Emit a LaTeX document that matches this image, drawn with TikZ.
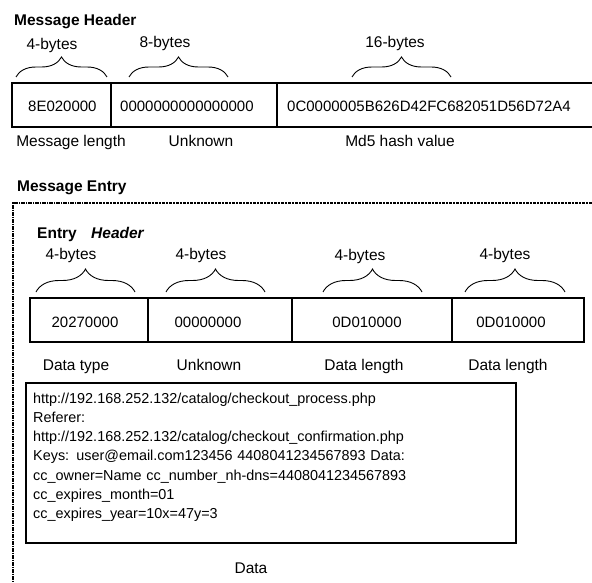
\documentclass[tikz,border=0pt]{standalone}
\usepackage{fontspec}
\setmainfont{Liberation Sans}
\usetikzlibrary{decorations.pathreplacing}

\begin{document}
\begin{tikzpicture}[x=1pt, y=-1pt,
		txt/.style={anchor=base, inner sep=0pt, font=\fontsize{15.5}{18}\selectfont},
		hex/.style={anchor=base, inner sep=0pt, font=\fontsize{15}{18}\selectfont},
		ttl/.style={anchor=base west, inner sep=0pt, font=\fontsize{15.5}{18}\selectfont\bfseries},
		cell/.style={line width=1.4pt},
		bytebrace/.style={decorate, decoration={brace, amplitude=#1}, line width=0.9pt}]
		\useasboundingbox (0, 0) rectangle (592, 583);

		% message header
		\node[ttl] (mhtitle) at (14, 26) {Message Header};

		\node[txt] (hb1) at (52, 50) {4-bytes};
		\node[txt] (hb2) at (165, 48) {8-bytes};
		\node[txt] (hb3) at (395, 48) {16-bytes};

		\draw[bytebrace=20pt] (16, 77) -- (107, 77);
		\draw[bytebrace=20pt] (129, 77) -- (228, 77);
		\draw[bytebrace=20pt] (352, 77) -- (451, 77);

		\draw[cell] (592, 83) -- (12, 83) -- (12, 127) -- (592, 127);
		\draw[cell] (111, 83) -- (111, 127);
		\draw[cell] (277, 83) -- (277, 127);

		\node[hex, anchor=base west] (hlen) at (28, 112) {8E020000};
		\node[hex, anchor=base west] (hunk) at (120, 112) {0000000000000000};
		\node[hex, anchor=base west] (hmd5) at (287, 112) {0C0000005B626D42FC682051D56D72A4};

		\node[txt] (llen) at (71, 147) {Message length};
		\node[txt] (lunk) at (201, 147) {Unknown};
		\node[txt] (lmd5) at (400, 147) {Md5 hash value};

		% message entry
		\node[ttl] (metitle) at (17, 192) {Message Entry};

		\draw[line width=2.4pt, dash pattern=on 3.5pt off 1pt on 1.5pt off 1pt] (592, 203) -- (13, 203) -- (13, 583);

		\node[ttl] (entry) at (37, 238) {Entry};
		\node[ttl, font=\fontsize{15.5}{18}\selectfont\bfseries\itshape] (ehdr) at (91, 238) {Header};

		\node[txt] (eb1) at (71, 259) {4-bytes};
		\node[txt] (eb2) at (201, 259) {4-bytes};
		\node[txt] (eb3) at (360, 260) {4-bytes};
		\node[txt] (eb4) at (505, 259) {4-bytes};

		\draw[bytebrace=23pt] (36, 292) -- (135, 292);
		\draw[bytebrace=23pt] (166, 292) -- (265, 292);
		\draw[bytebrace=23pt] (323, 292) -- (422, 292);
		\draw[bytebrace=23pt] (465, 292) -- (565, 292);

		\draw[cell] (30, 298) rectangle (584, 342);
		\draw[cell] (148, 298) -- (148, 342);
		\draw[cell] (292, 298) -- (292, 342);
		\draw[cell] (452, 298) -- (452, 342);

		\node[hex] (etype) at (85, 327) {20270000};
		\node[hex] (eunk) at (208, 327) {00000000};
		\node[hex] (elen1) at (367, 327) {0D010000};
		\node[hex] (elen2) at (511, 327) {0D010000};

		\node[txt] (ltype) at (76, 370) {Data type};
		\node[txt] (leunk) at (209, 370) {Unknown};
		\node[txt] (llen1) at (364, 370) {Data length};
		\node[txt] (llen2) at (508, 370) {Data length};

		% data
		\draw[cell] (26, 383) rectangle (516, 543);
		\node[anchor=base west, inner sep=0pt, text width=470pt, align=left,
			font=\fontsize{14.4}{19.3}\selectfont] (dtext) at (33, 403) {%
			http://192.168.252.132/catalog/checkout\_process.php\\
			Referer:\\
			http://192.168.252.132/catalog/checkout\_confirmation.php\\
			Keys: user@email.com123456 4408041234567893 Data:\\
			cc\_owner=Name cc\_number\_nh-dns=4408041234567893\\
			cc\_expires\_month=01\\
			cc\_expires\_year=10x=47y=3};

		\node[txt] (ldata) at (251, 573) {Data};
	\end{tikzpicture}
\end{document}
